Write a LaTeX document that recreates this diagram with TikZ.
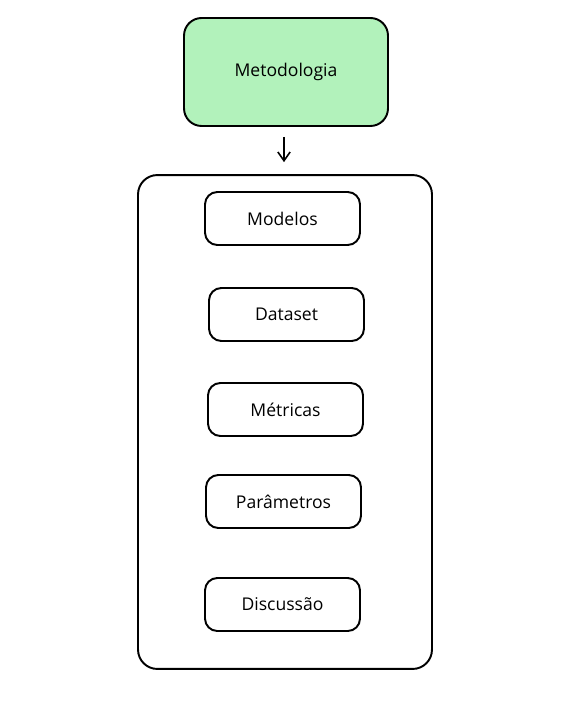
\documentclass[tikz,border=0pt]{standalone}
\usepackage{fontspec}
\setmainfont{Open Sans}
\usepackage{xcolor}
\usetikzlibrary{arrows.meta,positioning,fit,calc}
\definecolor{mintgreen}{HTML}{B2F2BB}

\begin{document}
\begin{tikzpicture}[
  x=0.02cm, y=-0.02cm,
  font=\fontsize{10}{12}\selectfont,
  >={Straight Barb[length=5pt,width=7pt]},
  box/.style={
    draw,
    rounded corners=7pt,
    align=center,
    line width=1.1pt,
    minimum height=1.06cm,
    minimum width=3.1cm
  },
  head/.style={box, fill=mintgreen, rounded corners=10pt, minimum height=2.16cm, minimum width=4.08cm},
  frame/.style={draw, rounded corners=11pt, line width=1.1pt, minimum width=5.88cm, minimum height=9.88cm},
  arrow/.style={->, line width=0.9pt, shorten >=6.8pt}
]
  \useasboundingbox (0,0) rectangle (575,705);

  \node[head] (metod) at (286,72) {Metodologia};
  \node[frame] (cont) at (285,422) {};

  \node[box] (model) at (282.5,218.5) {Modelos};
  \node[box] (data) at (286.5,314.5) {Dataset};
  \node[box] (metr) at (285.5,409.5) {Métricas};
  \node[box] (param) at (283.5,501.5) {Parâmetros};
  \node[box] (disc) at (282.5,604.5) {Discussão};

  \draw[arrow] ($(metod.south)+(-2,10)$) -- (cont.north -| {$(metod.south)+(-2,0)$});
\end{tikzpicture}
\end{document}
